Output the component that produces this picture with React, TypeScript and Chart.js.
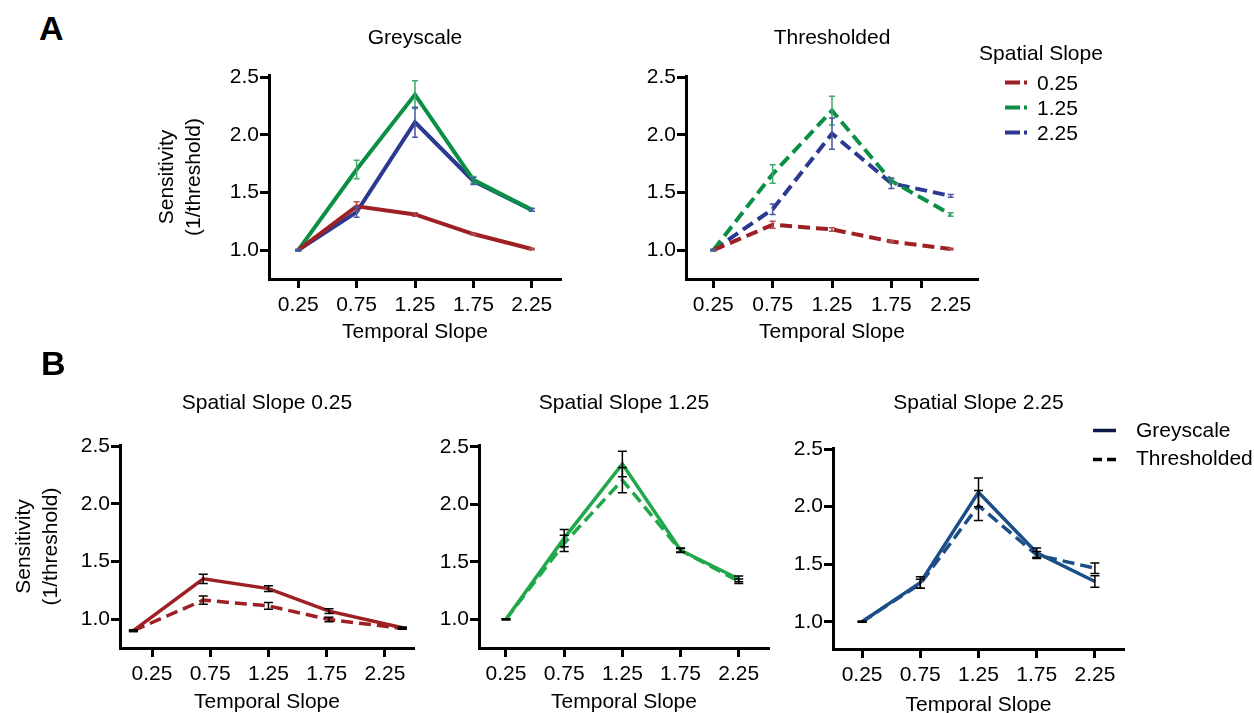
import React, { useEffect, useRef } from 'react';
import { Chart, registerables } from 'chart.js';

Chart.register(...registerables);

const FONT = "'Liberation Sans', Arial, Helvetica, sans-serif";
const FS = 21;

// ---------- data ----------
const temporalSlopes = [0.25, 0.75, 1.25, 1.75, 2.25];
// plotted x positions of the points in panel B "Spatial Slope 0.25" (shifted in the original)
const spatial025Positions = [0.09, 0.69, 1.25, 1.77, 2.4];
const xTickValues = [0.25, 0.75, 1.25, 1.75, 2.25];
const xTickValuesThresholded = [0.25, 0.75, 1.25, 1.75, 2.0, 2.25];
const yTickValues = [1.0, 1.5, 2.0, 2.5];
const spatialSlopeLabels = ['0.25', '1.25', '2.25'];

// Panel A – Greyscale
const greyRed = [1.0, 1.38, 1.31, 1.14, 1.01];
const greyRedErr = [0.006, 0.04, 0.015, 0.008, 0.006];
const greyGreen = [1.0, 1.7, 2.35, 1.61, 1.35];
const greyGreenErr = [0.006, 0.08, 0.12, 0.03, 0.012];
const greyBlue = [1.0, 1.33, 2.11, 1.6, 1.35];
const greyBlueErr = [0.006, 0.045, 0.13, 0.03, 0.012];

// Panel A – Thresholded
const thrRed = [1.0, 1.22, 1.18, 1.075, 1.01];
const thrRedErr = [0.006, 0.03, 0.015, 0.008, 0.006];
const thrGreen = [1.0, 1.66, 2.21, 1.6, 1.31];
const thrGreenErr = [0.006, 0.08, 0.125, 0.02, 0.015];
const thrBlue = [1.0, 1.355, 2.01, 1.58, 1.47];
const thrBlueErr = [0.006, 0.045, 0.135, 0.045, 0.012];

// Panel B – Spatial Slope 0.25
const b1Grey = [0.9, 1.35, 1.265, 1.07, 0.925];
const b1GreyErr = [0.006, 0.04, 0.025, 0.02, 0.008];
const b1Thr = [0.9, 1.165, 1.115, 0.997, 0.92];
const b1ThrErr = [0.006, 0.035, 0.03, 0.02, 0.008];

// Panel B – Spatial Slope 1.25
const b2Grey = [1.0, 1.705, 2.35, 1.6, 1.35];
const b2GreyErr = [0.004, 0.075, 0.11, 0.02, 0.025];
const b2Thr = [1.0, 1.66, 2.21, 1.6, 1.33];
const b2ThrErr = [0.004, 0.07, 0.11, 0.015, 0.02];

// Panel B – Spatial Slope 2.25
const b3Grey = [1.0, 1.34, 2.125, 1.6, 1.35];
const b3GreyErr = [0.004, 0.05, 0.125, 0.04, 0.05];
const b3Thr = [1.0, 1.33, 2.01, 1.58, 1.465];
const b3ThrErr = [0.004, 0.04, 0.13, 0.03, 0.045];

// ---------- styles ----------
const RED = '#9E1F24';
const GREEN = '#0A8F45';
const BLUE = '#2B3990';
const RED_ERR = '#B04A4E';
const GREEN_ERR = '#3DAA6E';
const BLUE_ERR = '#4A56A6';
const B_RED = '#9E1F24';
const B_GREEN = '#20A84A';
const B_BLUE = '#1C4E87';
const seriesColors = [RED, GREEN, BLUE];

const errorBarPlugin = {
  id: 'errorBars',
  afterDatasetsDraw(chart: any) {
    const ctx = chart.ctx;
    const yScale = chart.scales.y;
    chart.data.datasets.forEach((ds: any, di: number) => {
      if (!ds.errors) return;
      const meta = chart.getDatasetMeta(di);
      ctx.save();
      ctx.strokeStyle = ds.errorColor;
      ctx.lineWidth = ds.errorWidth;
      ctx.setLineDash([]);
      meta.data.forEach((pt: any, i: number) => {
        const v = ds.data[i].y;
        const e = ds.errors[i];
        const x = pt.x;
        const yt = yScale.getPixelForValue(v + e);
        const yb = yScale.getPixelForValue(v - e);
        const hw = ds.capHalf;
        ctx.beginPath();
        ctx.moveTo(x, yt);
        ctx.lineTo(x, yb);
        ctx.moveTo(x - hw, yt);
        ctx.lineTo(x + hw, yt);
        ctx.moveTo(x - hw, yb);
        ctx.lineTo(x + hw, yb);
        ctx.stroke();
      });
      ctx.restore();
    });
  },
};

type Series = {
  label: string;
  values: number[];
  errors: number[];
  color: string;
  width: number;
  dash?: number[];
  errColor: string;
  errWidth: number;
  capHalf: number;
};

type PanelSpec = {
  box: { left: number; top: number; width: number; height: number };
  area: { left: number; top: number; right: number; bottom: number };
  title: string;
  titleY: number;
  xTitleY: number;
  yTitle?: string[];
  yTitleX?: number;
  xMin: number;
  xMax: number;
  yMin: number;
  yMax: number;
  xValues: number[];
  xTicks: number[];
  hiddenLabels?: number[];
  hiddenMarks?: number[];
  series: Series[];
};

function buildConfig(s: PanelSpec): any {
  const lhT = FS * 1.2;
  const lhY = FS * 1.31;
  const padTop = s.titleY - s.box.top - lhT / 2;
  const titleBottomPad = s.area.top - s.box.top - padTop - lhT;
  const yW = s.area.left - s.box.left;
  const xH = s.box.top + s.box.height - s.area.bottom;
  const padRight = s.box.left + s.box.width - s.area.right;
  const yTitlePad = s.yTitle ? (s.yTitleX as number) - s.box.left - lhY / 2 : 0;
  const xTitlePad = s.box.top + s.box.height - s.xTitleY - lhT / 2;
  const hiddenLabels = s.hiddenLabels || [];
  const hiddenMarks = s.hiddenMarks || [];
  return {
    type: 'line',
    data: {
      datasets: s.series.map((d) => ({
        label: d.label,
        data: s.xValues.map((x, i) => ({ x, y: d.values[i] })),
        errors: d.errors,
        borderColor: d.color,
        backgroundColor: d.color,
        borderWidth: d.width,
        borderDash: d.dash || [],
        errorColor: d.errColor,
        errorWidth: d.errWidth,
        capHalf: d.capHalf,
        pointRadius: 0,
        pointHoverRadius: 0,
        fill: false,
        tension: 0,
      })),
    },
    options: {
      responsive: false,
      maintainAspectRatio: false,
      animation: false,
      devicePixelRatio: 1,
      events: [],
      layout: { padding: { top: padTop, left: 0, right: padRight, bottom: 0 } },
      plugins: {
        legend: { display: false },
        tooltip: { enabled: false },
        title: {
          display: true,
          text: s.title,
          fullSize: false,
          color: '#000',
          font: { size: FS, weight: 'normal', family: FONT, lineHeight: 1.2 },
          padding: { top: 0, bottom: titleBottomPad },
        },
      },
      scales: {
        x: {
          type: 'linear',
          min: s.xMin,
          max: s.xMax,
          afterFit: (sc: any) => {
            sc.height = xH;
          },
          afterBuildTicks: (sc: any) => {
            sc.ticks = s.xTicks.map((v) => ({ value: v }));
          },
          ticks: {
            callback: (v: any) => (hiddenLabels.includes(Number(v)) ? '' : Number(v).toFixed(2)),
            color: '#000',
            font: { size: FS, family: FONT, lineHeight: 1.2 },
            padding: 5,
            autoSkip: false,
            maxRotation: 0,
            minRotation: 0,
          },
          grid: {
            display: true,
            drawOnChartArea: false,
            drawTicks: true,
            tickLength: 9,
            tickWidth: 3,
            tickColor: (ctx: any) =>
              ctx.tick && hiddenMarks.includes(ctx.tick.value) ? 'rgba(0,0,0,0)' : '#000',
          },
          border: { display: true, color: '#000', width: 3 },
          title: {
            display: true,
            text: 'Temporal Slope',
            color: '#000',
            font: { size: FS, family: FONT, lineHeight: 1.2 },
            padding: { top: 0, bottom: xTitlePad },
          },
        },
        y: {
          type: 'linear',
          min: s.yMin,
          max: s.yMax,
          afterFit: (sc: any) => {
            sc.width = yW;
          },
          afterBuildTicks: (sc: any) => {
            sc.ticks = yTickValues.map((v) => ({ value: v }));
          },
          ticks: {
            callback: (v: any) => Number(v).toFixed(1),
            color: '#000',
            font: { size: FS, family: FONT, lineHeight: 1.2 },
            padding: 1,
          },
          grid: {
            display: true,
            drawOnChartArea: false,
            drawTicks: true,
            tickLength: 9,
            tickWidth: 3,
            tickColor: '#000',
          },
          border: { display: true, color: '#000', width: 3 },
          title: {
            display: !!s.yTitle,
            text: s.yTitle || '',
            color: '#000',
            font: { size: FS, family: FONT, lineHeight: 1.31 },
            padding: { top: yTitlePad, bottom: 0 },
          },
        },
      },
    },
    plugins: [errorBarPlugin],
  };
}

const aSeries = (label: string, values: number[], errors: number[], color: string, errColor: string, dash?: number[]): Series => ({
  label, values, errors, color, width: 4, dash, errColor, errWidth: 1.5, capHalf: 3,
});
const bSeries = (label: string, values: number[], errors: number[], color: string, dash?: number[]): Series => ({
  label, values, errors, color, width: 3.5, dash, errColor: '#000', errWidth: 1.5, capHalf: 4.5,
});

const panels: PanelSpec[] = [
  {
    box: { left: 140, top: 0, width: 451, height: 350 },
    area: { left: 269, top: 75, right: 561, bottom: 279 },
    title: 'Greyscale', titleY: 38.5, xTitleY: 332,
    yTitle: ['Sensitivity', '(1/threshold)'], yTitleX: 167,
    xMin: 0, xMax: 2.5, yMin: 0.75, yMax: 2.52,
    xValues: temporalSlopes, xTicks: xTickValues,
    series: [
      aSeries(spatialSlopeLabels[0], greyRed, greyRedErr, RED, RED_ERR),
      aSeries(spatialSlopeLabels[1], greyGreen, greyGreenErr, GREEN, GREEN_ERR),
      aSeries(spatialSlopeLabels[2], greyBlue, greyBlueErr, BLUE, BLUE_ERR),
    ],
  },
  {
    box: { left: 620, top: 0, width: 388, height: 350 },
    area: { left: 686, top: 76, right: 978, bottom: 279 },
    title: 'Thresholded', titleY: 38.5, xTitleY: 332,
    xMin: 0.02, xMax: 2.48, yMin: 0.75, yMax: 2.51,
    xValues: temporalSlopes, xTicks: xTickValuesThresholded,
    hiddenLabels: [2.0], hiddenMarks: [2.25],
    series: [
      aSeries(spatialSlopeLabels[0], thrRed, thrRedErr, RED, RED_ERR, [12, 6]),
      aSeries(spatialSlopeLabels[1], thrGreen, thrGreenErr, GREEN, GREEN_ERR, [12, 6]),
      aSeries(spatialSlopeLabels[2], thrBlue, thrBlueErr, BLUE, BLUE_ERR, [12, 6]),
    ],
  },
  {
    box: { left: 0, top: 355, width: 440, height: 358 },
    area: { left: 120, top: 445, right: 414, bottom: 648 },
    title: 'Spatial Slope 0.25', titleY: 403, xTitleY: 702.5,
    yTitle: ['Sensitivity', '(1/threshold)'], yTitleX: 24,
    xMin: -0.025, xMax: 2.5, yMin: 0.75, yMax: 2.51,
    xValues: spatial025Positions, xTicks: xTickValues,
    series: [
      bSeries('Greyscale', b1Grey, b1GreyErr, B_RED),
      bSeries('Thresholded', b1Thr, b1ThrErr, B_RED, [12, 6]),
    ],
  },
  {
    box: { left: 420, top: 355, width: 375, height: 358 },
    area: { left: 479, top: 445, right: 769, bottom: 648 },
    title: 'Spatial Slope 1.25', titleY: 403, xTitleY: 702.5,
    xMin: 0.018, xMax: 2.51, yMin: 0.75, yMax: 2.515,
    xValues: temporalSlopes, xTicks: xTickValues,
    series: [
      bSeries('Greyscale', b2Grey, b2GreyErr, B_GREEN),
      bSeries('Thresholded', b2Thr, b2ThrErr, B_GREEN, [12, 6]),
    ],
  },
  {
    box: { left: 775, top: 355, width: 375, height: 358 },
    area: { left: 833, top: 448, right: 1124, bottom: 649 },
    title: 'Spatial Slope 2.25', titleY: 403, xTitleY: 705.5,
    xMin: 0, xMax: 2.5, yMin: 0.763, yMax: 2.51,
    xValues: temporalSlopes, xTicks: xTickValues,
    series: [
      bSeries('Greyscale', b3Grey, b3GreyErr, B_BLUE),
      bSeries('Thresholded', b3Thr, b3ThrErr, B_BLUE, [12, 6]),
    ],
  },
];

function Panel({ spec }: { spec: PanelSpec }) {
  const ref = useRef<HTMLCanvasElement | null>(null);
  useEffect(() => {
    if (!ref.current) return;
    const chart = new Chart(ref.current, buildConfig(spec));
    return () => chart.destroy();
  }, [spec]);
  const { box } = spec;
  return (
    <canvas
      ref={ref}
      width={box.width}
      height={box.height}
      style={{ position: 'absolute', left: box.left, top: box.top, width: box.width, height: box.height }}
    />
  );
}

const textStyle: React.CSSProperties = {
  position: 'absolute',
  fontFamily: FONT,
  fontSize: FS,
  lineHeight: '26px',
  color: '#000',
  whiteSpace: 'nowrap',
};

export default function App() {
  const aLegendRows = [70, 94.5, 119.5];
  const bLegendRows = [417, 444.5];
  return (
    <div
      style={{
        position: 'absolute',
        left: 0,
        top: 0,
        width: 1254,
        height: 713,
        overflow: 'hidden',
        background: '#fff',
        fontFamily: FONT,
      }}
    >
      {panels.map((p, i) => (
        <Panel key={i} spec={p} />
      ))}
      <div style={{ ...textStyle, left: 39, top: 11, fontSize: 34, lineHeight: '34px', fontWeight: 'bold' }}>A</div>
      <div style={{ ...textStyle, left: 41, top: 346, fontSize: 34, lineHeight: '34px', fontWeight: 'bold' }}>B</div>

      {/* Legend panel A */}
      <div style={{ ...textStyle, left: 961, top: 40, width: 160, textAlign: 'center' }}>Spatial Slope</div>
      {spatialSlopeLabels.map((lab, i) => (
        <React.Fragment key={lab}>
          <svg
            width={26}
            height={26}
            style={{ position: 'absolute', left: 1004, top: aLegendRows[i] }}
          >
            <line
              x1={1}
              y1={12.5}
              x2={25}
              y2={12.5}
              stroke={seriesColors[i]}
              strokeWidth={4}
              strokeDasharray="15 4 3 100"
            />
          </svg>
          <div style={{ ...textStyle, left: 1037, top: aLegendRows[i] }}>{lab}</div>
        </React.Fragment>
      ))}

      {/* Legend panel B */}
      <svg width={26} height={26} style={{ position: 'absolute', left: 1092, top: bLegendRows[0] }}>
        <line x1={1} y1={13.5} x2={24} y2={13.5} stroke="#0D1A4A" strokeWidth={3.5} />
      </svg>
      <div style={{ ...textStyle, left: 1136, top: bLegendRows[0] }}>Greyscale</div>
      <svg width={26} height={26} style={{ position: 'absolute', left: 1092, top: bLegendRows[1] }}>
        <line x1={1} y1={14.5} x2={24} y2={14.5} stroke="#000" strokeWidth={3.5} strokeDasharray="9 5" />
      </svg>
      <div style={{ ...textStyle, left: 1136, top: bLegendRows[1] }}>Thresholded</div>
    </div>
  );
}
